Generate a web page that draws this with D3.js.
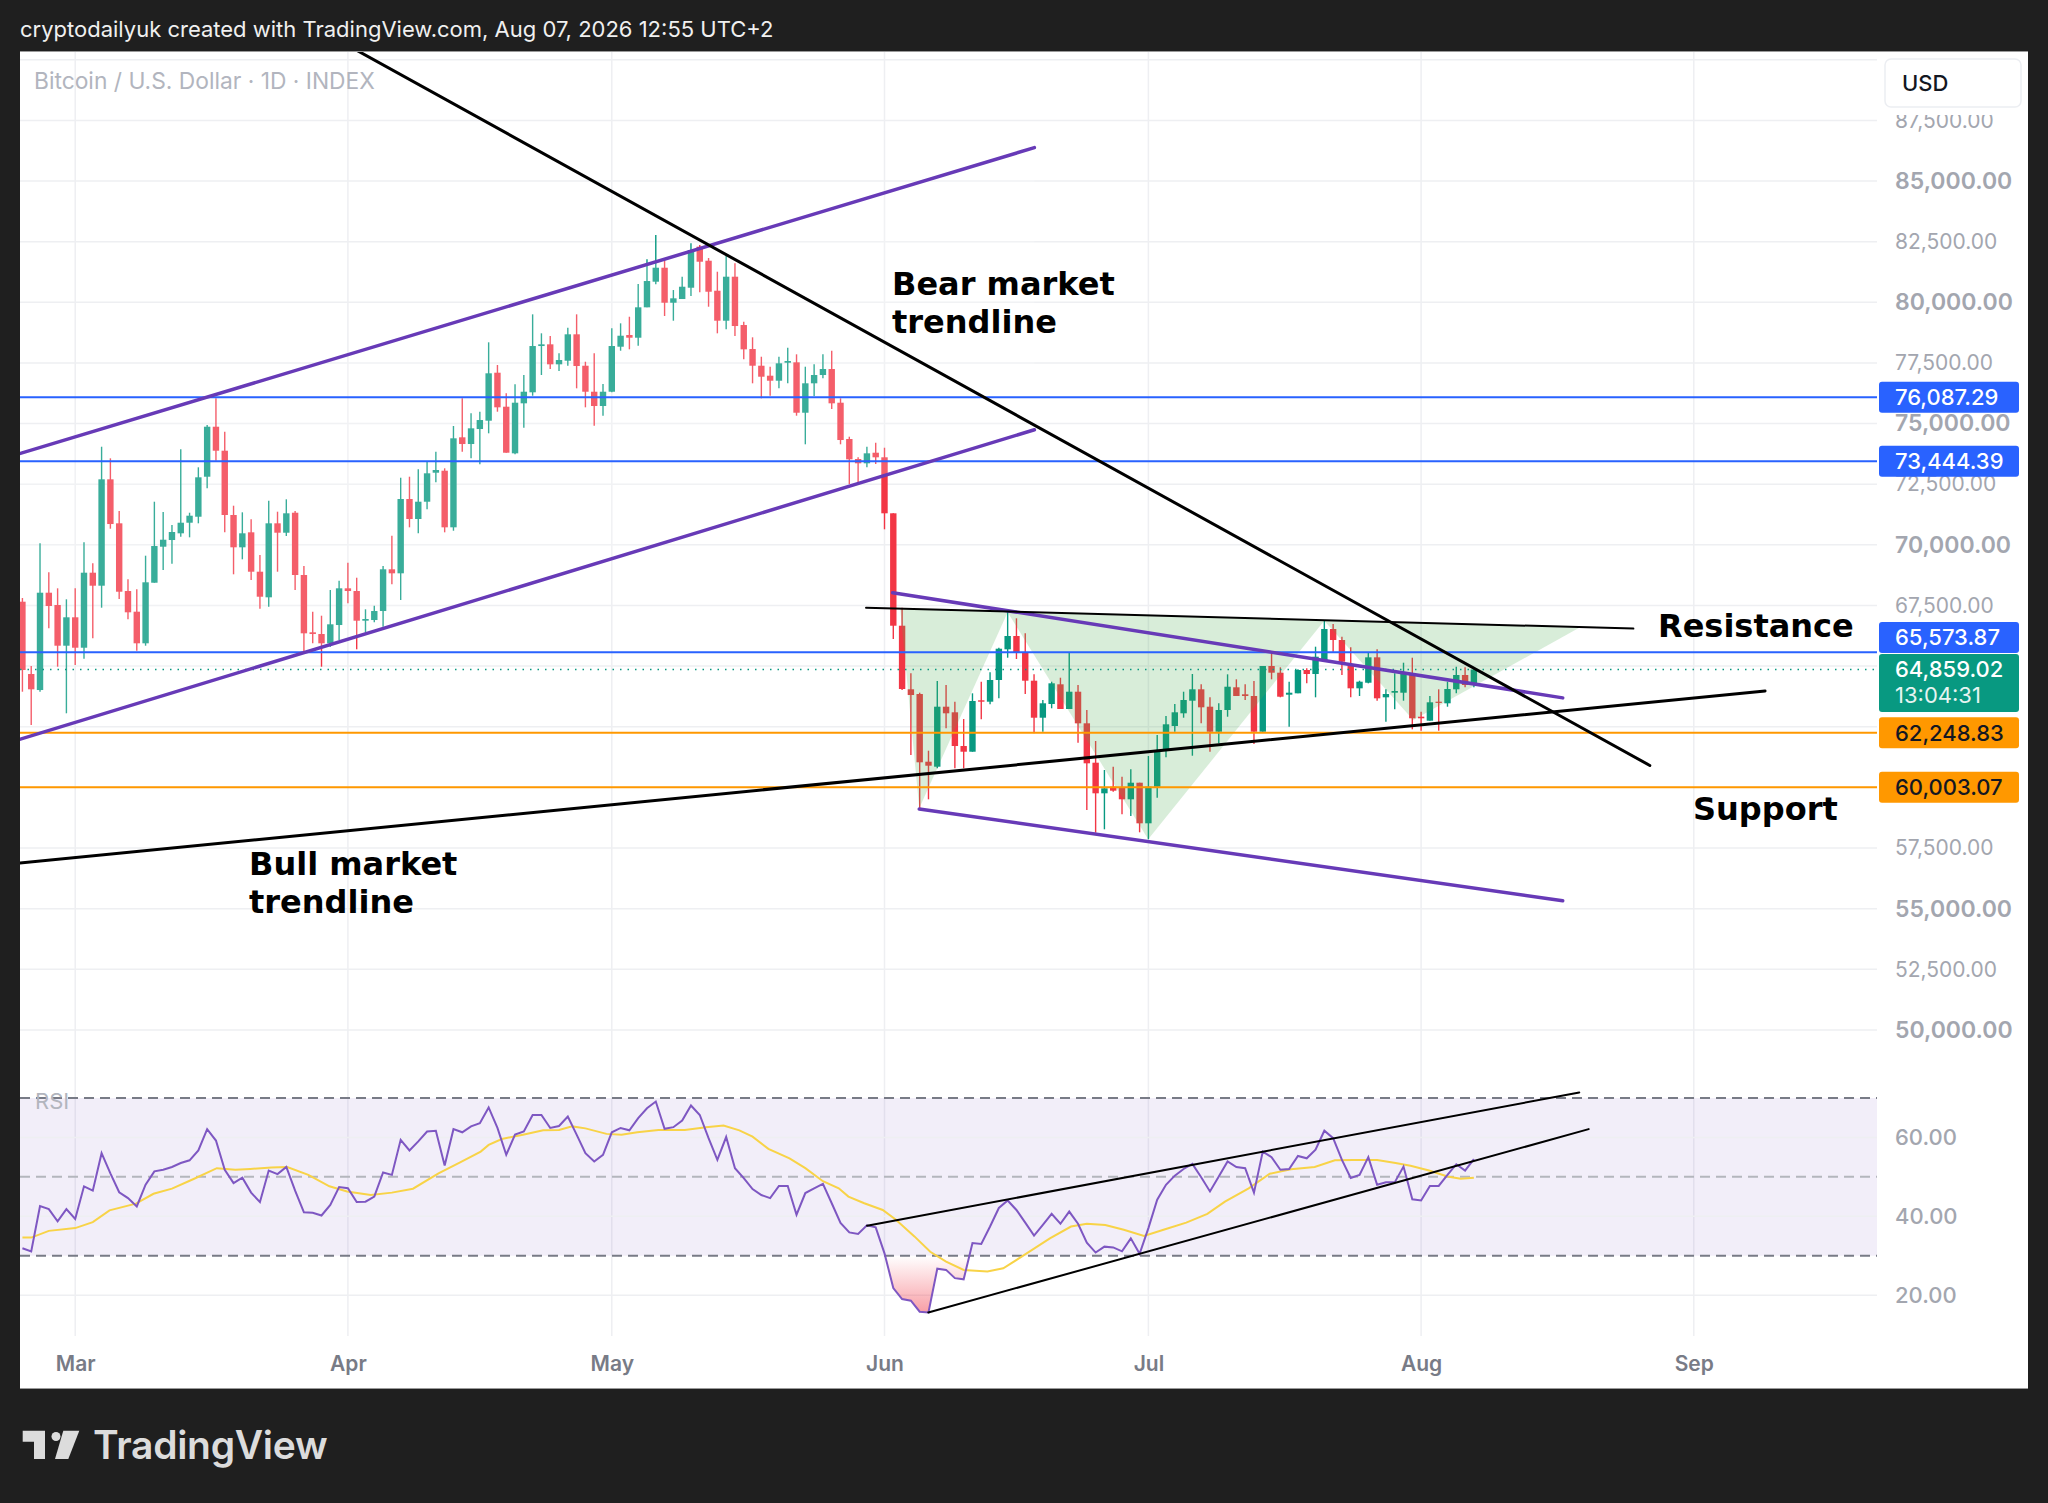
<!DOCTYPE html>
<html>
<head>
<meta charset="utf-8">
<script src="https://d3js.org/d3.v7.min.js"></script>
<title>Bitcoin / U.S. Dollar 1D</title>
<style>
  body { margin: 0; background: #1f1f1f; }
  svg { display: block; font-family: Inter, "Noto Sans", sans-serif; }
  .domain { display: none; }
</style>
</head>
<body>
<svg width="2048" height="1503"></svg>
<script>
// ---- data (daily candles from Feb 23 2026) ----
const firstDay = '2026-02-23';
const opens = [67655,64674,64014,68026,67519,65841,67012,65758,68851,68315,
  72701,70887,68096,67243,65940,68438,69923,70199,70475,70912,
  71159,72809,74870,73881,71230,69898,70516,68892,67836,70887,
  70500,71324,68756,66393,66323,65940,66694,68207,68096,66872,
  66900,67271,68991,68826,71889,71065,71778,72974,73056,70722,
  74433,74157,74775,75118,77097,75695,73773,75835,76289,78197,
  78267,77443,77591,78680,77385,76313,75724,76313,78169,78651,
  78540,79793,80849,81426,79983,80135,80601,82292,81714,80477,
  79241,81055,79063,78074,77385,76973,76767,77509,77525,75447,
  76660,77002,77249,75860,74363,73538,73361,73798,73609,71300,
  66665,64043,63849,61058,60852,63326,63095,61705,61470,63590,
  63532,64427,65692,66241,65569,64398,62872,63437,64249,63231,
  63944,62641,61017,59755,60027,59986,59508,60192,58518,60027,
  61540,62530,63054,63573,64043,63326,62295,63190,64126,63837,
  63767,62295,65004,64728,63821,63878,64839,64674,65222,66529,
  66076,65004,64084,64315,65362,63713,63903,63903,64703,62914,
  62748,63532,63466,64043,64633,64221];
const highs = [67807,65004,70063,68867,68207,67754,68207,70104,69238,74045,
  73567,71394,68578,68166,69552,71778,71353,70817,73938,71324,
  73196,74940,76041,74664,71613,71341,71052,69580,71819,71366,
  71877,71394,69127,67243,67078,68137,68521,69263,68644,67342,
  67490,69127,70376,72767,72809,73114,73427,73839,73155,74899,
  76041,75423,75489,78350,77414,76247,76618,77002,79504,78721,
  78610,77896,78952,79504,77550,77896,76631,78927,79133,79405,
  80754,81772,82774,81743,80506,81055,82432,82362,81825,81261,
  81949,81607,79199,78556,77756,77344,77756,78127,77855,77344,
  77443,77855,78004,76041,74458,73609,74045,74210,74004,71300,
  67408,64703,63903,61512,64385,64221,63532,62819,63878,64357,
  64744,65758,67243,66970,66352,64661,63602,64357,64521,65552,
  64221,63190,61912,60716,60852,60440,60745,60192,61293,62159,
  62942,63437,63944,64674,64249,63713,63466,64661,64455,64249,
  64385,65004,65499,64950,64357,64868,64909,65800,66859,66735,
  66212,65775,64398,65552,65692,64043,64703,65140,65346,63120,
  63767,64043,64357,64975,64950,64950];
const lows = [63944,62571,63944,66558,64975,63054,65045,65305,66146,67408,
  70665,67766,66929,65635,65841,68438,68962,69222,70335,70310,
  70887,72330,73468,70516,68785,69403,68550,67366,67449,68892,
  70364,68137,65593,65940,64975,65800,66076,67589,65692,66393,
  66806,66624,68372,67725,70722,70475,71465,72578,70516,70582,
  73839,73567,73320,74598,75489,73798,73732,74829,76148,77002,
  77249,77167,77385,76453,75670,74911,75324,76289,78004,78061,
  78210,79793,80741,79434,79241,80135,80259,80412,79818,78721,
  78886,78610,77649,76660,76041,76148,76453,76660,75324,74145,
  76136,76866,75600,74145,72508,72536,73196,73332,70640,66117,
  64014,61334,59137,59508,60786,62435,60786,60786,61470,62806,
  63425,63672,65346,65292,63849,62229,62295,63260,63231,63231,
  61841,59067,58131,58271,59821,58889,58819,58147,57859,59574,
  61239,62295,62872,61305,62641,61470,61817,62913,63767,63602,
  61788,62295,64455,63713,62501,63878,64290,63713,65222,65593,
  64633,63713,63767,64290,63573,62707,63218,63573,62394,62336,
  62748,62336,63326,63878,64126,64126];
const closes = [64839,64043,68026,67478,65841,67012,65758,68851,68315,72701,
  70858,68067,67218,65940,68455,69951,70211,70529,70912,71201,
  72784,74870,73881,71230,69898,70475,68892,67861,70887,70500,
  71300,68756,66352,66323,65940,66723,68207,68096,66872,66942,
  67271,68991,68826,71889,71065,71778,72949,73085,70722,74392,
  74157,74804,75146,77072,75670,73798,75860,76313,78197,78267,
  77443,77620,78680,77373,76313,75724,76313,78197,78622,78540,
  79793,80877,81426,79983,80164,80642,82155,81673,80436,79241,
  81055,79022,78061,77385,76932,76767,77484,77579,75447,76660,
  77002,77249,75835,74322,73526,73361,73773,73609,71300,66665,
  64056,63808,61033,60893,63326,63054,61705,61470,63561,63532,
  64427,65717,66241,65569,64398,62872,63466,64290,63231,63944,
  62641,60992,59755,59961,59863,59508,60192,58518,60027,61540,
  62600,63095,63602,64043,63301,62295,63190,64150,63767,63767,
  62295,65004,64728,63738,63903,64839,64674,65387,66529,66076,
  65181,64084,64357,65362,63672,63849,63973,64703,62848,62848,
  63507,63491,64056,64633,64221,64859.02];

const rsiValues = [31.9,31.1,42.6,41.8,38.7,41.8,
  39.3,47.6,46.5,56.0,50.9,46.1,44.6,42.5,48.0,51.4,
  51.8,52.5,53.5,54.2,56.7,62.1,59.2,51.8,48.4,49.8,
  46.0,43.6,51.6,50.7,52.5,46.5,41.0,40.9,40.2,42.9,
  47.4,47.1,43.6,43.7,45.0,51.1,50.5,59.4,56.7,59.0,
  61.5,61.7,52.9,62.1,61.3,62.8,63.6,67.6,62.4,55.6,
  60.7,61.5,65.7,65.7,62.4,62.9,65.3,60.7,56.0,53.9,
  55.6,61.3,62.4,61.8,64.9,67.4,69.1,62.2,62.6,64.3,
  68.1,65.7,59.8,54.3,60.1,52.2,49.7,46.9,45.4,44.6,
  47.7,47.7,40.4,45.9,47.1,48.2,
  43.3,38.3,35.9,35.5,37.7,37.2,30.6,21.8,19.0,18.6,
  15.8,15.6,26.7,26.4,24.3,24.0,33.2,33.0,37.4,42.1,
  44.0,41.6,38.4,35.1,37.8,40.6,38.1,41.2,38.1,33.3,
  30.8,32.3,32.1,31.1,34.4,30.5,37.0,44.2,48.0,50.3,
  52.0,53.3,49.9,46.3,50.1,53.9,52.5,52.2,46.0,56.4,
  55.0,51.8,52.0,55.3,54.7,56.9,61.7,59.8,54.3,49.7,
  50.5,55.0,48.0,48.6,48.6,52.6,44.3,44.0,47.7,47.7,
  50.5,53.2,51.6,54.5];
// days counted from Mar 1 2026
const rsiMaDay = [-6,-5,-3,0,2,3.9,6.9,8.9,11,13.4,16.1,18.2,19.9,22.3,24.1,26.5,28.9,30.9,33.6,36,
  38.4,41.3,43.7,46.1,47,48.5,50.9,53.2,55,56.5,58,60.4,62.1,63.9,66.3,69.3,71.7,73.7,75.5,77,
  78.8,81.2,83,85,86.8,87.9,89.7,91.8,93.3,95.4,97.2,99,101,103.7,105.5,107.9,110.8,113.2,115,117.1,
  119.2,121.5,123.9,126.3,128.7,130.7,133.4,135.8,138.2,140.9,143.2,145.3,148,150.1,151.8,153.9,156,157.5,159];
const rsiMaValue = [34.6,34.6,36.3,37.0,38.5,41.5,43.2,45.7,47.0,49.4,52.2,51.8,52.0,52.4,52.5,50.5,47.6,46.3,45.4,46.0,
  47.0,50.9,53.6,56.4,58.1,59.6,60.7,61.8,61.9,62.8,62.3,60.9,60.7,61.3,61.9,61.9,62.6,63.0,61.8,60.2,
  57.1,54.7,52.2,48.9,47.1,45.0,43.3,41.6,39.1,34.9,31.0,28.5,26.4,26.0,26.8,30.2,34.4,37.4,38.1,37.8,
  36.6,35.0,36.7,38.4,40.6,43.7,47.1,50.8,51.9,52.5,54.2,54.3,54.3,53.5,52.8,51.6,50.1,49.5,49.8];

const priceGrid = d3.range(50000, 90001, 2500);
const priceLabels = d3.range(50000, 87501, 2500);
const rsiLabels = [20, 40, 60];
const blueLevels = [76087.29, 73444.39, 65573.87];
const orangeLevels = [62248.83, 60003.07];
const lastPrice = 64859.02;
const countdown = '13:04:31';

// drawings: [days from Mar 1, price]
const bearLine = [[25, 91795], [179, 60904]];
const bullLine = [[-7, 56855], [192.1, 63973]];
const channelUpper = [[-7, 73685], [109.04, 86377]];
const channelLower = [[-7, 61905], [109.04, 74746]];
const resistanceLine = [[89.9, 67408], [177.13, 66546]];
const wedgeUpper = [[92.93, 68026], [169.1, 63689]];
const wedgeLower = [[95.95, 59108], [169.1, 55323]];
const hsPoints = [[93.79, 67354], [95.95, 59137], [106.0, 67218], [121.98, 57859],
                  [141.99, 66872], [152.11, 62777], [170.97, 66579]];
const rsiUpperLine = [[90.02, 37.6], [170.98, 71.4]];
const rsiLowerLine = [[96.98, 15.6], [172.05, 62.1]];

// ---- layout ----
const paneL = 20, paneR = 2028, axisX = 1877;
const priceTop = 52, priceBottom = 1082, rsiTop = 1083, rsiBottom = 1336, paneBottom = 1388;
const up = '#089981', down = '#f23645';

const svg = d3.select('svg');
const mar1 = Date.UTC(2026, 2, 1);
const dayDate = d => new Date(mar1 + d * 864e5);
const start = d3.utcParse('%Y-%m-%d')(firstDay);
const dates = opens.map((_, i) => d3.utcDay.offset(start, i));

const x = d3.scaleUtc().domain([dayDate(0), dayDate(184)]).range([75.2, 1693.8]);
const y = d3.scaleLinear().domain([50000, 87500]).range([1029.9, 120.4]);
const yR = d3.scaleLinear().domain([30, 70]).range([1255.7, 1098]);
const px = p => [x(dayDate(p[0])), y(p[1])];
const pxR = p => [x(dayDate(p[0])), yR(p[1])];

// background
svg.append('rect').attr('width', 2048).attr('height', 1503).attr('fill', '#1f1f1f');
svg.append('rect').attr('x', paneL).attr('y', priceTop).attr('width', paneR - paneL)
  .attr('height', paneBottom - priceTop).attr('fill', '#fff');
svg.append('line').attr('x1', paneL).attr('x2', paneR).attr('y1', priceTop - 0.5).attr('y2', priceTop - 0.5)
  .attr('stroke', '#9a9a9a').attr('stroke-width', 1);
svg.append('line').attr('x1', paneL).attr('x2', paneR).attr('y1', paneBottom + 0.5).attr('y2', paneBottom + 0.5)
  .attr('stroke', '#9a9a9a').attr('stroke-width', 1);

const defs = svg.append('defs');
defs.append('clipPath').attr('id', 'pclip').append('rect')
  .attr('x', paneL).attr('y', priceTop).attr('width', axisX - paneL).attr('height', priceBottom - priceTop);
defs.append('clipPath').attr('id', 'rclip').append('rect')
  .attr('x', paneL).attr('y', rsiTop).attr('width', axisX - paneL).attr('height', rsiBottom - rsiTop);
defs.append('clipPath').attr('id', 'osclip').append('rect')
  .attr('x', paneL).attr('y', yR(30)).attr('width', axisX - paneL).attr('height', rsiBottom - yR(30));
const grad = defs.append('linearGradient').attr('id', 'osgrad').attr('gradientUnits', 'userSpaceOnUse')
  .attr('x1', 0).attr('x2', 0).attr('y1', yR(30)).attr('y2', yR(15));
grad.append('stop').attr('offset', 0).attr('stop-color', '#f23645').attr('stop-opacity', 0);
grad.append('stop').attr('offset', 1).attr('stop-color', '#f23645').attr('stop-opacity', 0.5);

// grid
const grid = svg.append('g').attr('stroke', '#eeeff2').attr('stroke-width', 1.5);
grid.selectAll('.vg').data(x.ticks(d3.utcMonth.every(1))).join('line')
  .attr('x1', d => x(d)).attr('x2', d => x(d)).attr('y1', priceTop).attr('y2', rsiBottom);
grid.selectAll('.hg').data(priceGrid).join('line')
  .attr('x1', paneL).attr('x2', axisX).attr('y1', d => y(d)).attr('y2', d => y(d));

// ---- price pane ----
const pg = svg.append('g').attr('clip-path', 'url(#pclip)');

const candles = pg.append('g').selectAll('g').data(dates).join('g');
candles.append('line')
  .attr('x1', (d) => x(d)).attr('x2', d => x(d))
  .attr('y1', (d, i) => y(highs[i])).attr('y2', (d, i) => y(lows[i]))
  .attr('stroke', (d, i) => closes[i] >= opens[i] ? up : down).attr('stroke-width', 1.4);
candles.append('rect')
  .attr('x', d => x(d) - 3.2).attr('width', 6.4)
  .attr('y', (d, i) => y(Math.max(opens[i], closes[i])))
  .attr('height', (d, i) => Math.max(1.2, Math.abs(y(opens[i]) - y(closes[i]))))
  .attr('fill', (d, i) => closes[i] >= opens[i] ? up : down);

// channel background (drawn over candles, as on the chart)
const line = d3.line();
pg.append('path')
  .attr('d', line([px(channelUpper[0]), px(channelUpper[1]), px(channelLower[1]), px(channelLower[0])]) + 'Z')
  .attr('fill', 'rgba(255,255,255,0.2)');

// inverse head & shoulders fills
const tri = [[0, 1, 2], [2, 3, 4], [4, 5, 6]];
pg.selectAll('.hs').data(tri).join('path')
  .attr('d', t => line(t.map(k => px(hsPoints[k]))) + 'Z')
  .attr('fill', 'rgba(76,175,80,0.22)');

// horizontal levels
pg.selectAll('.bl').data(blueLevels).join('line')
  .attr('x1', paneL).attr('x2', axisX).attr('y1', d => y(d)).attr('y2', d => y(d))
  .attr('stroke', '#2962ff').attr('stroke-width', 2);
pg.selectAll('.ol').data(orangeLevels).join('line')
  .attr('x1', paneL).attr('x2', axisX).attr('y1', d => y(d)).attr('y2', d => y(d))
  .attr('stroke', '#ff9800').attr('stroke-width', 2);
pg.append('line').attr('x1', paneL).attr('x2', axisX).attr('y1', y(lastPrice)).attr('y2', y(lastPrice))
  .attr('stroke', up).attr('stroke-width', 1.5).attr('stroke-dasharray', '1.5,6');

// trend lines
const drawLine = (g, pts, f, color, w) => g.append('path').attr('d', line(pts.map(f)))
  .attr('fill', 'none').attr('stroke', color).attr('stroke-width', w).attr('stroke-linecap', 'round');
drawLine(pg, channelUpper, px, '#673ab7', 3.5);
drawLine(pg, channelLower, px, '#673ab7', 3.5);
drawLine(pg, wedgeUpper, px, '#673ab7', 3.5);
drawLine(pg, wedgeLower, px, '#673ab7', 3.5);
drawLine(pg, resistanceLine, px, '#000', 2);
drawLine(pg, bearLine, px, '#000', 3);
drawLine(pg, bullLine, px, '#000', 3);

// annotations
const notes = [
  ['Bear market', 892, 295], ['trendline', 892, 333],
  ['Resistance', 1658, 637], ['Support', 1693, 820],
  ['Bull market', 249, 875], ['trendline', 249, 913]
];
svg.append('g').selectAll('text').data(notes).join('text')
  .attr('x', d => d[1]).attr('y', d => d[2]).text(d => d[0])
  .attr('font-family', '"DejaVu Sans", sans-serif')
  .attr('font-size', 32).attr('font-weight', 700).attr('fill', '#000');

svg.append('text').attr('x', 34).attr('y', 89).text('Bitcoin / U.S. Dollar · 1D · INDEX')
  .attr('font-size', 22.8).attr('fill', '#b2b5be');

// ---- RSI pane ----
const rg = svg.append('g').attr('clip-path', 'url(#rclip)');
rg.append('rect').attr('x', paneL).attr('width', axisX - paneL)
  .attr('y', yR(70)).attr('height', yR(30) - yR(70)).attr('fill', 'rgba(126,87,194,0.1)');
rg.selectAll('.rg').data(rsiLabels).join('line')
  .attr('x1', paneL).attr('x2', axisX).attr('y1', d => yR(d)).attr('y2', d => yR(d))
  .attr('stroke', '#eeeff2').attr('stroke-width', 1.5);
rg.selectAll('.rl').data([70, 50, 30]).join('line')
  .attr('x1', paneL).attr('x2', axisX).attr('y1', d => yR(d)).attr('y2', d => yR(d))
  .attr('stroke', d => d === 50 ? '#b4b6bd' : '#787b86').attr('stroke-width', 2)
  .attr('stroke-dasharray', '10,6');

const rsiPts = rsiValues.map((v, i) => [x(dates[i]), yR(v)]);
rg.append('path')
  .attr('clip-path', 'url(#osclip)')
  .attr('d', d3.area().x(d => d[0]).y0(yR(30)).y1(d => d[1])(rsiPts))
  .attr('fill', 'url(#osgrad)');
rg.append('path')
  .attr('d', line(rsiMaDay.map((d, i) => [x(dayDate(d)), yR(rsiMaValue[i])])))
  .attr('fill', 'none').attr('stroke', '#f8d347').attr('stroke-width', 2);
rg.append('path').attr('d', line(rsiPts))
  .attr('fill', 'none').attr('stroke', '#7e57c2').attr('stroke-width', 2);
drawLine(rg, rsiUpperLine, pxR, '#000', 2);
drawLine(rg, rsiLowerLine, pxR, '#000', 2);

svg.append('text').attr('x', 35).attr('y', 1109).text('RSI')
  .attr('font-size', 22).attr('fill', '#b2b5be');

// ---- price tags on the axis (laid out first so covered grid labels can be skipped) ----
const tagH = 31;
const lastTag = { top: y(lastPrice) - 15.5, bottom: y(lastPrice) - 15.5 + 58 };
const tags = blueLevels.map(p => ({ price: p, fill: '#2962ff', color: '#fff' }))
  .concat(orangeLevels.map(p => ({ price: p, fill: '#ff9800', color: '#131722' })));
tags.forEach(t => {
  let top = y(t.price) - tagH / 2;
  // push a tag away from the live-price tag when they collide
  if (top < lastTag.bottom && top + tagH > lastTag.top) {
    top = y(t.price) < y(lastPrice) ? lastTag.top - tagH - 1 : lastTag.bottom + 1;
  }
  t.top = top;
});
const boxes = tags.map(t => [t.top, t.top + tagH]).concat([[lastTag.top, lastTag.bottom]]);
const covered = v => boxes.some(b => y(v) > b[0] && y(v) < b[1]);

// ---- axes ----
const yAxis = svg.append('g').attr('transform', `translate(${axisX},0)`)
  .call(d3.axisRight(y).tickValues(priceLabels.filter(v => !covered(v)))
    .tickFormat(d3.format(',.2f')).tickSize(0).tickPadding(18));
yAxis.selectAll('text')
  .attr('fill', '#a3a6af')
  .attr('font-size', d => d % 5000 === 0 ? 23 : 21)
  .attr('font-weight', d => d % 5000 === 0 ? 600 : 400)
  .attr('font-family', 'Inter, sans-serif');

const rAxis = svg.append('g').attr('transform', `translate(${axisX},0)`)
  .call(d3.axisRight(yR).tickValues(rsiLabels).tickFormat(d3.format('.2f')).tickSize(0).tickPadding(18));
rAxis.selectAll('text').attr('fill', '#a3a6af').attr('font-size', 22).attr('font-weight', 500)
  .attr('font-family', 'Inter, sans-serif');

const xAxis = svg.append('g').attr('transform', 'translate(0,1364)')
  .call(d3.axisBottom(x).ticks(d3.utcMonth.every(1)).tickFormat(d3.utcFormat('%b')).tickSize(0));
xAxis.selectAll('text').attr('y', 0).attr('dy', '0.35em')
  .attr('fill', '#787b86').attr('font-size', 21).attr('font-weight', 600)
  .attr('font-family', 'Inter, sans-serif');

const tg = svg.append('g').selectAll('g').data(tags).join('g');
tg.append('rect').attr('x', 1879).attr('y', d => d.top).attr('width', 140).attr('height', tagH)
  .attr('rx', 3).attr('fill', d => d.fill);
tg.append('text').attr('x', 1895).attr('y', d => d.top + tagH / 2).attr('dy', '0.36em')
  .text(d => d3.format(',.2f')(d.price)).attr('font-size', 22).attr('font-weight', 500)
  .attr('fill', d => d.color);

const lt = svg.append('g');
lt.append('rect').attr('x', 1879).attr('y', lastTag.top).attr('width', 140).attr('height', lastTag.bottom - lastTag.top)
  .attr('rx', 3).attr('fill', up);
lt.append('text').attr('x', 1895).attr('y', y(lastPrice)).attr('dy', '0.36em')
  .text(d3.format(',.2f')(lastPrice)).attr('font-size', 22).attr('font-weight', 500).attr('fill', '#fff');
lt.append('text').attr('x', 1895).attr('y', y(lastPrice) + 26).attr('dy', '0.36em')
  .text(countdown).attr('font-size', 22).attr('font-weight', 400).attr('fill', '#e6f4f1');

// currency button
svg.append('rect').attr('x', axisX + 1).attr('y', priceTop).attr('width', paneR - axisX - 1).attr('height', 63)
  .attr('fill', '#fff');
svg.append('rect').attr('x', 1885).attr('y', 59).attr('width', 136).attr('height', 48).attr('rx', 6)
  .attr('fill', '#fff').attr('stroke', '#eceef2').attr('stroke-width', 1.5);
svg.append('text').attr('x', 1902).attr('y', 83).attr('dy', '0.36em').text('USD')
  .attr('font-size', 22).attr('font-weight', 500).attr('fill', '#131722');

// header and footer
svg.append('text').attr('x', 20).attr('y', 37)
  .text('cryptodailyuk created with TradingView.com, Aug 07, 2026 12:55 UTC+2')
  .attr('font-size', 22).attr('fill', '#f0f0f0');

const logo = svg.append('g').attr('fill', '#dcdcdc');
logo.append('path').attr('d', 'M22.7,1430.7 H45 V1459 H34 V1441.7 H22.7 Z');
logo.append('circle').attr('cx', 56).attr('cy', 1436.5).attr('r', 4.5);
logo.append('path').attr('d', 'M63.3,1430.7 H79.3 L68.3,1459 H55 Z');
svg.append('text').attr('x', 93).attr('y', 1459).text('TradingView')
  .attr('font-size', 39).attr('font-weight', 600).attr('fill', '#dcdcdc').attr('letter-spacing', -0.3);
</script>
</body>
</html>
